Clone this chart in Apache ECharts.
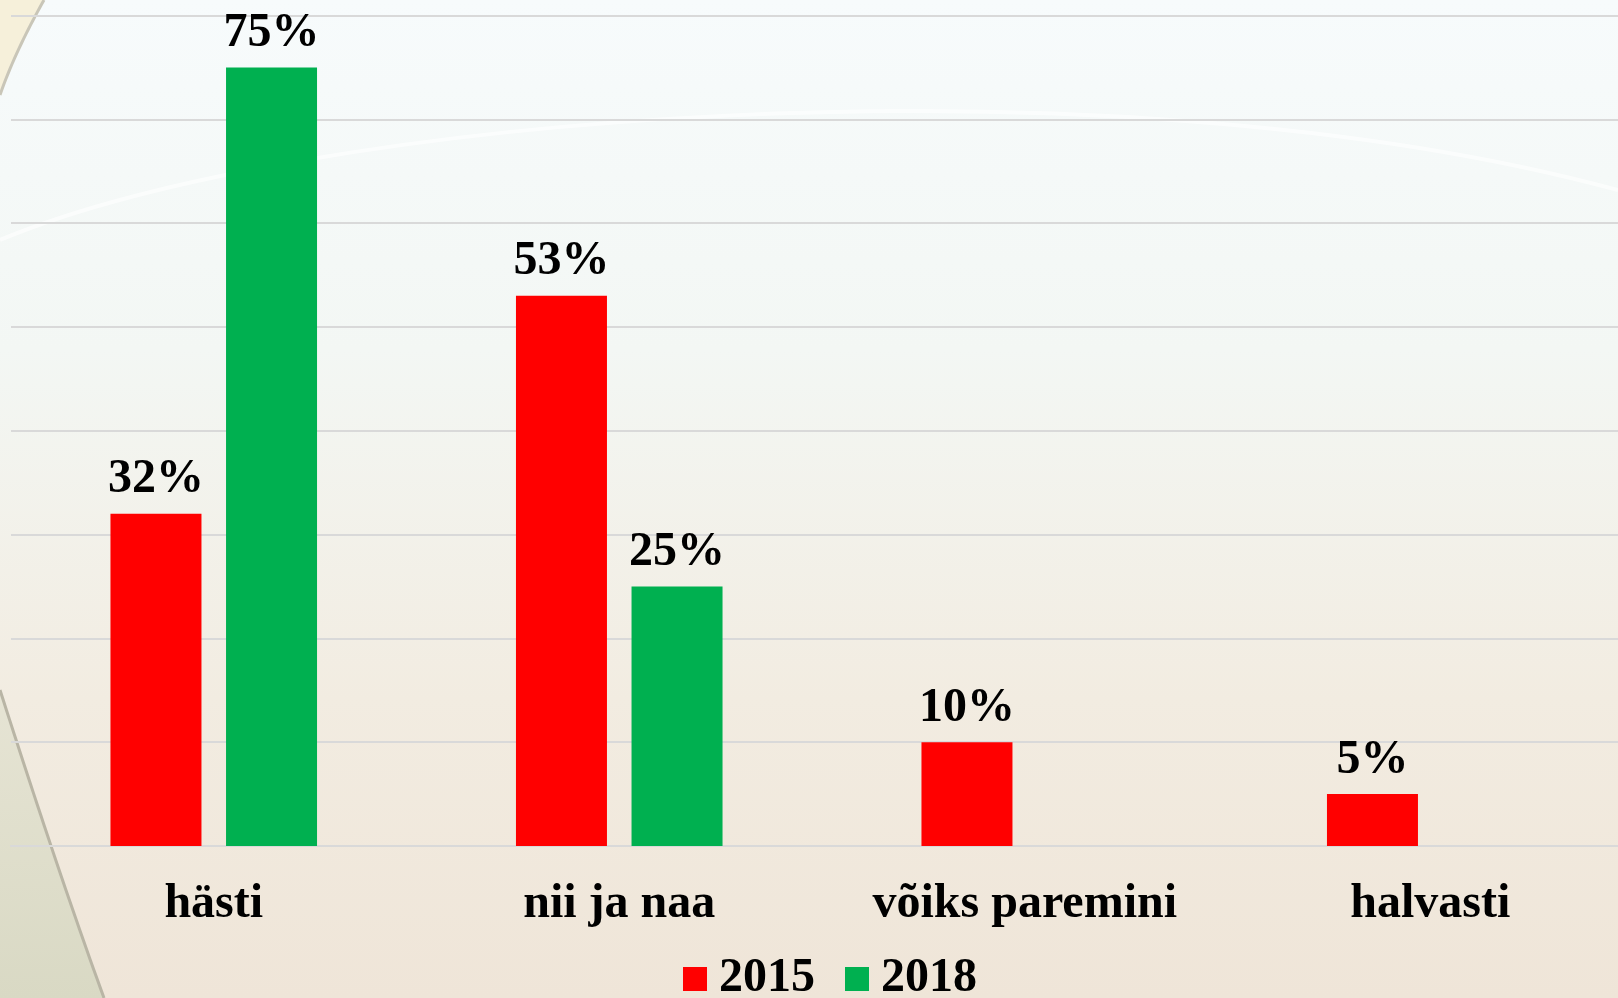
<!DOCTYPE html>
<html>
<head>
<meta charset="utf-8">
<script src="https://cdn.jsdelivr.net/npm/echarts@6/dist/echarts.min.js"></script>
<style>
  html, body { margin: 0; padding: 0; }
  #chart { width: 1618px; height: 998px; }
</style>
</head>
<body>
<div id="chart"></div>
<script>
const categories = ['hästi', 'nii ja naa', 'võiks paremini', 'halvasti']
const seriesNames = ['2015', '2018']
const values2015 = [32, 53, 10, 5]
const values2018 = [75, 25, null, null]
const yTicks = { min: 0, max: 80, interval: 10 }

const serif = '"Liberation Serif", "Times New Roman", serif'

var myChart = echarts.init(document.getElementById('chart'))

// background decoration: points along a cubic curve, used to fill corners
function curvePoints(p0, p1, p2, p3, n) {
  var pts = []
  for (var i = 0; i <= n; i++) {
    var t = i / n, u = 1 - t
    pts.push([
      u * u * u * p0[0] + 3 * u * u * t * p1[0] + 3 * u * t * t * p2[0] + t * t * t * p3[0],
      u * u * u * p0[1] + 3 * u * u * t * p1[1] + 3 * u * t * t * p2[1] + t * t * t * p3[1]
    ])
  }
  return pts
}
const bottomArc = curvePoints([0, 690], [32, 790], [70, 905], [104, 998], 30)
const topArc = curvePoints([44, 0], [30, 25], [12, 60], [0, 95], 20)

const labelOption = {
  show: true,
  position: 'top',
  distance: 10,
  formatter: '{c}%',
  fontFamily: serif,
  fontWeight: 'bold',
  fontSize: 48,
  color: '#000'
}

var option = {
  backgroundColor: {
    type: 'linear', x: 0, y: 0, x2: 0, y2: 1,
    colorStops: [
      { offset: 0, color: '#f7fbfc' },
      { offset: 0.35, color: '#f3f7f4' },
      { offset: 0.7, color: '#f2ece1' },
      { offset: 1, color: '#efe5d8' }
    ]
  },
  graphic: [
    {
      type: 'bezierCurve', z: -10, silent: true,
      shape: { x1: 0, y1: 240, cpx1: 300, cpy1: 115, cpx2: 1100, cpy2: 50, x2: 1618, y2: 190 },
      style: { stroke: 'rgba(255,255,255,0.6)', lineWidth: 4, fill: null }
    },
    {
      type: 'polygon', z: -10, silent: true,
      shape: { points: [[0, 0]].concat(topArc) },
      style: { fill: '#f6f0da' }
    },
    {
      type: 'polyline', z: -9, silent: true,
      shape: { points: topArc },
      style: { stroke: '#c9c6b8', lineWidth: 3, fill: null }
    },
    {
      type: 'polygon', z: -10, silent: true,
      shape: { points: bottomArc.concat([[0, 998]]) },
      style: {
        fill: {
          type: 'linear', x: 0, y: 0, x2: 0, y2: 1,
          colorStops: [{ offset: 0, color: '#e6e4d4' }, { offset: 1, color: '#d9d9c4' }]
        }
      }
    },
    {
      type: 'polyline', z: -9, silent: true,
      shape: { points: bottomArc },
      style: { stroke: '#b9b5a5', lineWidth: 3, fill: null }
    }
  ],
  grid: {
    left: 11,
    right: -15,
    top: 15.5,
    bottom: 152,
    containLabel: false,
    outerBoundsMode: 'none'
  },
  legend: {
    data: seriesNames,
    left: 678,
    top: 950,
    itemWidth: 24,
    itemHeight: 24,
    itemGap: 30,
    icon: 'rect',
    textStyle: {
      fontFamily: serif,
      fontWeight: 'bold',
      fontSize: 48,
      color: '#000',
      padding: [0, 0, 0, 7]
    }
  },
  xAxis: {
    type: 'category',
    data: categories,
    axisTick: { show: false },
    axisLine: { lineStyle: { color: '#d9d9d9', width: 2 } },
    axisLabel: {
      margin: 35,
      fontFamily: serif,
      fontWeight: 'bold',
      fontSize: 48,
      color: '#000'
    }
  },
  yAxis: {
    type: 'value',
    min: yTicks.min,
    max: yTicks.max,
    interval: yTicks.interval,
    axisLabel: { show: false },
    axisLine: { show: false },
    axisTick: { show: false },
    splitLine: { lineStyle: { color: '#d9d9d9', width: 2 } }
  },
  series: [
    {
      name: seriesNames[0],
      type: 'bar',
      barWidth: 91,
      barGap: '27%',
      itemStyle: { color: '#ff0000' },
      label: labelOption,
      data: values2015
    },
    {
      name: seriesNames[1],
      type: 'bar',
      barWidth: 91,
      barGap: '27%',
      itemStyle: { color: '#00b050' },
      label: labelOption,
      data: values2018
    }
  ]
}

option && myChart.setOption(option)
</script>
</body>
</html>
